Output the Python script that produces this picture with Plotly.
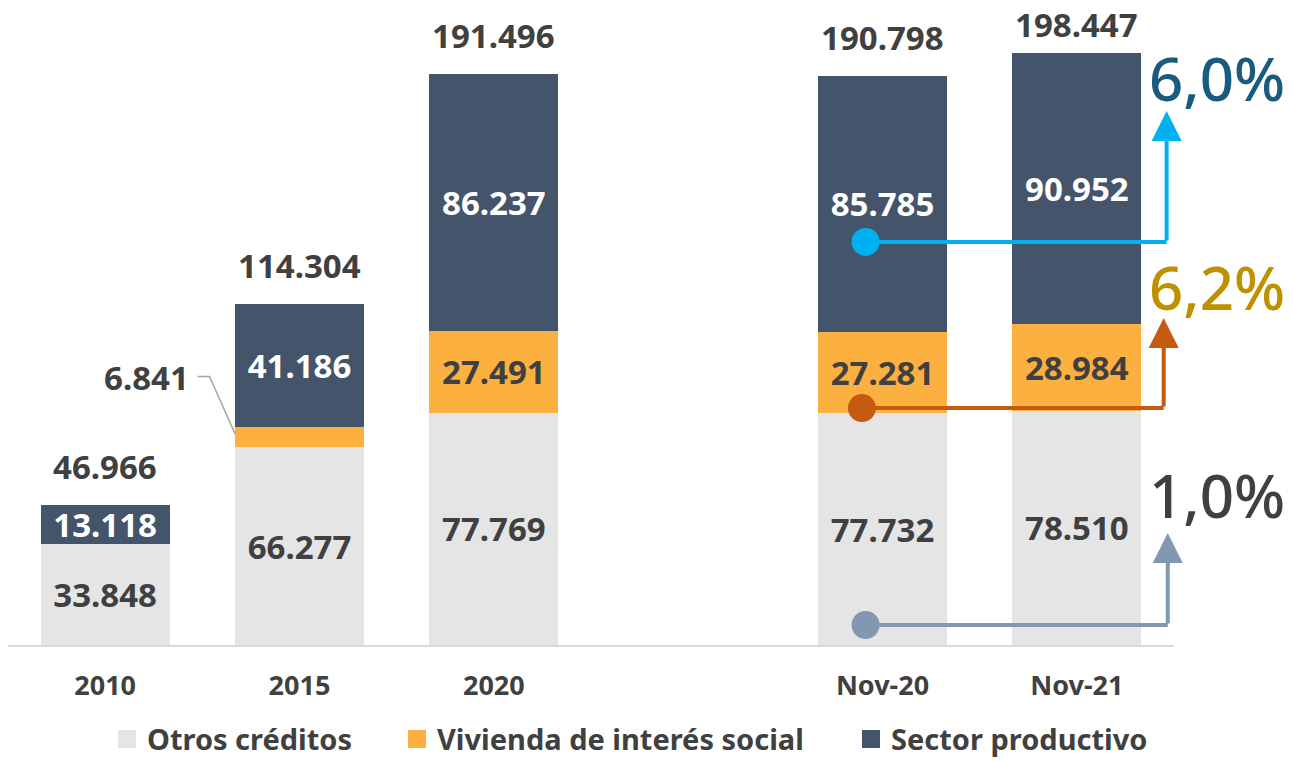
import plotly.graph_objects as go

# ---- data ----
categories = ["2010", "2015", "2020", " ", "Nov-20", "Nov-21"]
otros = [33848, 66277, 77769, None, 77732, 78510]
vivienda = [0, 6841, 27491, None, 27281, 28984]
sector = [13118, 41186, 86237, None, 85785, 90952]
totals = [46966, 114304, 191496, None, 190798, 198447]
series_names = ["Otros créditos", "Vivienda de interés social", "Sector productivo"]
growth_labels = ["6,0%", "6,2%", "1,0%"]


def fmt(v):
    return f"{v:,}".replace(",", ".") if v else ""


FONT = "Noto Sans"
DARK = "#404040"
C_OTROS = "#E5E5E5"
C_VIV = "#FBB040"
C_SEC = "#44546A"

fig = go.Figure()

viv_text = [fmt(v) for v in vivienda]
viv_text[1] = ""  # labelled outside with a leader line

series = [
    (series_names[0], otros, C_OTROS, DARK, [fmt(v) for v in otros]),
    (series_names[1], vivienda, C_VIV, DARK, viv_text),
    (series_names[2], sector, C_SEC, "white", [fmt(v) for v in sector]),
]
for name, vals, color, tcolor, texts in series:
    fig.add_trace(go.Bar(
        x=categories, y=vals, name=name, marker=dict(color=color, line=dict(width=0)),
        width=0.663, text=texts, textposition="inside", insidetextanchor="middle",
        textangle=0, constraintext="none", showlegend=False,
        textfont=dict(family=FONT, size=33, color=tcolor, weight="bold"),
        hoverinfo="skip",
    ))

# legend entries (one legend per item so each can be placed like the original)
legend_ids = ["legend", "legend2", "legend3"]
for (name, _, color, _, _), lid in zip(series, legend_ids):
    fig.add_trace(go.Scatter(
        x=[None], y=[None], mode="markers", name=name, legend=lid, showlegend=True,
        marker=dict(symbol="square", size=16, color=color, line=dict(color=color, width=2)),
        hoverinfo="skip",
    ))

annotations = []
# totals above bars (x given as category index); the tallest one sits closer to its bar
for i, t in enumerate(totals):
    if t:
        shift = 5 if t == max(v for v in totals if v) else 15
        annotations.append(dict(x=i, y=t, xref="x", yref="y", text=fmt(t), showarrow=False,
                                yanchor="bottom", yshift=shift, borderpad=0,
                                font=dict(family=FONT, size=33, color=DARK, weight="bold")))

# 2015 vivienda label with leader line
viv_mid = otros[1] + vivienda[1] / 2
annotations.append(dict(x=0.44, y=viv_mid, xref="x", yref="y", text=fmt(vivienda[1]),
                        showarrow=False, xanchor="right", yanchor="middle", yshift=60,
                        font=dict(family=FONT, size=33, color=DARK, weight="bold")))

shapes = []
shapes.append(dict(type="path", xref="x", yref="y",
                   path=f"M 0.475 {viv_mid + 20300} L 0.537 {viv_mid + 20300} L 0.669 {viv_mid + 1000}",
                   line=dict(color="#A6A6A6", width=1.5)))

# growth arrows: (dot x, line y, arrow x, tip y, color, label colour, label shift)
arrows = [
    (3.913, 135100, 5.462, 179000, "#00B0F0", "#1A5A7D", 33),
    (3.894, 79400, 5.447, 109600, "#C55A11", "#BF9000", 31),
    (3.913, 6700, 5.468, 37500, "#8497B0", DARK, 38),
]
for (dx, ly, ax, ty, col, lcol, lsh), lab in zip(arrows, growth_labels):
    shapes.append(dict(type="line", xref="x", yref="y", x0=dx, x1=ax, y0=ly, y1=ly,
                       line=dict(color=col, width=4)))
    annotations.append(dict(x=ax, y=ty, ax=ax, ay=ly, xref="x", yref="y", axref="x", ayref="y",
                            showarrow=True, arrowhead=2, arrowsize=1.5, arrowwidth=4,
                            arrowcolor=col, text=""))
    shapes.append(dict(type="circle", xref="x", yref="y", xsizemode="pixel", ysizemode="pixel",
                       xanchor=dx, yanchor=ly, x0=-14, x1=14, y0=-14, y1=14,
                       fillcolor=col, line=dict(width=0)))
    annotations.append(dict(x=0.977, y=ty, xref="paper", yref="y", text=lab, showarrow=False,
                            xanchor="left", yanchor="middle", yshift=lsh,
                            font=dict(family=FONT, size=60, color=lcol, weight=500)))

legend_style = dict(orientation="h", xanchor="left", y=-0.146, yanchor="middle",
                    font=dict(family=FONT, size=29, color=DARK, weight="bold"),
                    itemwidth=30, itemsizing="trace", bgcolor="rgba(0,0,0,0)")

fig.update_layout(
    barmode="stack",
    width=1293, height=761,
    margin=dict(l=8, r=119, t=0, b=116, autoexpand=False),
    plot_bgcolor="white", paper_bgcolor="white",
    font=dict(family=FONT, color=DARK),
    showlegend=True,
    legend=dict(x=0.0849, **legend_style),
    legend2=dict(x=0.3336, **legend_style),
    legend3=dict(x=0.7230, **legend_style),
    xaxis=dict(type="category", categoryorder="array", categoryarray=categories,
               range=[-0.5, 5.5], showline=True, linecolor="#D9D9D9", linewidth=2,
               ticks="", ticklabelstandoff=16, showgrid=False, zeroline=False,
               tickfont=dict(family=FONT, size=27, color=DARK, weight="bold")),
    yaxis=dict(range=[0, 216200], visible=False, showgrid=False, zeroline=False),
    annotations=annotations,
    shapes=shapes,
)

fig.write_html("out.html", config={"displayModeBar": False},
               post_script="document.body.style.margin='0px';")
